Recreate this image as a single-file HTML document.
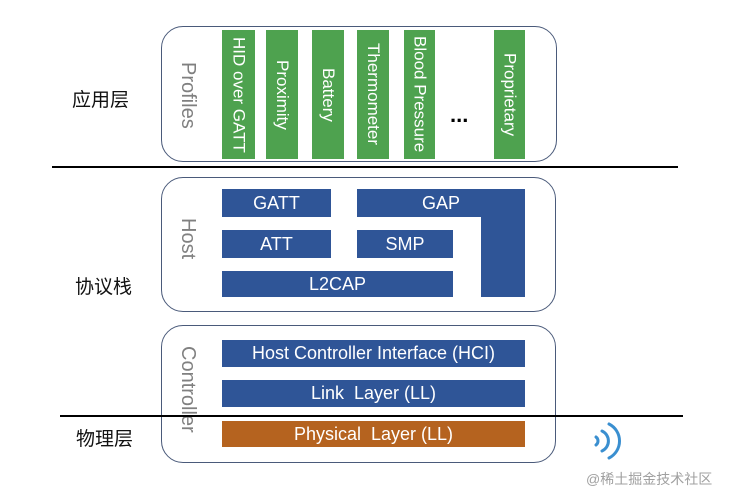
<!DOCTYPE html>
<html><head><meta charset="utf-8"><style>
body{margin:0;width:742px;height:502px;background:#fff;position:relative;overflow:hidden;font-family:"Liberation Sans","Noto Sans CJK SC",sans-serif}
.a{position:absolute;box-sizing:border-box}
.box{border:1.5px solid #4a5a7a;border-radius:22px;background:#fff}
.g{background:#4ea24f;color:#fff;font-size:17px;display:flex;align-items:center;justify-content:center}
.g span{writing-mode:vertical-rl;white-space:nowrap}
.b{background:#2f5597;color:#fff;font-size:18px;display:flex;align-items:center;justify-content:center;white-space:pre}
.v{writing-mode:vertical-rl;color:#808080;font-size:20px;white-space:nowrap}
.cn{font-size:19px;color:#111;font-family:"Noto Sans CJK SC",sans-serif}
.line{height:2px;background:#000}
</style></head><body>
<div class="a box" style="left:161px;top:26px;width:396px;height:136px"></div>
<div class="a v" style="left:176px;top:62px">Profiles</div>
<div class="a g" style="left:222px;top:30px;width:33px;height:129px"><span>HID over GATT</span></div>
<div class="a g" style="left:266px;top:30px;width:32px;height:129px"><span>Proximity</span></div>
<div class="a g" style="left:312px;top:30px;width:32px;height:129px"><span>Battery</span></div>
<div class="a g" style="left:357px;top:30px;width:32px;height:129px"><span>Thermometer</span></div>
<div class="a g" style="left:404px;top:30px;width:31px;height:129px"><span>Blood Pressure</span></div>
<div class="a g" style="left:494px;top:30px;width:31px;height:129px"><span>Proprietary</span></div>
<div class="a" style="left:450px;top:102px;font-size:22px;font-weight:bold">...</div>

<div class="a line" style="left:52px;top:166px;width:626px"></div>

<div class="a box" style="left:161px;top:177px;width:395px;height:135px"></div>
<div class="a v" style="left:176px;top:218px">Host</div>
<div class="a b" style="left:222px;top:189px;width:109px;height:28px">GATT</div>
<div class="a b" style="left:357px;top:189px;width:168px;height:28px">GAP</div>
<div class="a" style="left:481px;top:189px;width:44px;height:108px;background:#2f5597"></div>
<div class="a b" style="left:222px;top:230px;width:109px;height:28px">ATT</div>
<div class="a b" style="left:357px;top:230px;width:96px;height:28px">SMP</div>
<div class="a b" style="left:222px;top:271px;width:231px;height:26px">L2CAP</div>

<div class="a box" style="left:161px;top:325px;width:395px;height:138px"></div>
<div class="a v" style="left:176px;top:346px">Controller</div>
<div class="a b" style="left:222px;top:340px;width:303px;height:27px">Host Controller Interface (HCI)</div>
<div class="a b" style="left:222px;top:380px;width:303px;height:27px">Link  Layer (LL)</div>
<div class="a b" style="left:222px;top:421px;width:303px;height:26px;background:#b5631f">Physical  Layer (LL)</div>

<div class="a line" style="left:60px;top:415px;width:623px"></div>

<div class="a cn" style="left:72px;top:85px">应用层</div>
<div class="a cn" style="left:75px;top:272px">协议栈</div>
<div class="a cn" style="left:76px;top:424px">物理层</div>

<svg class="a" style="left:588px;top:418px" width="36" height="46" viewBox="0 0 36 46">
<g fill="none" stroke="#3a8fd0" stroke-width="3" stroke-linecap="round">
<path d="M8 19 A5 5 0 0 1 8 27"/>
<path d="M14 13 A11 11 0 0 1 14 33"/>
<path d="M21 6 A19 19 0 0 1 21 40"/>
</g></svg>
<div class="a" style="left:586px;top:469px;font-size:14px;color:#a0a0a0">@稀土掘金技术社区</div>
</body></html>
